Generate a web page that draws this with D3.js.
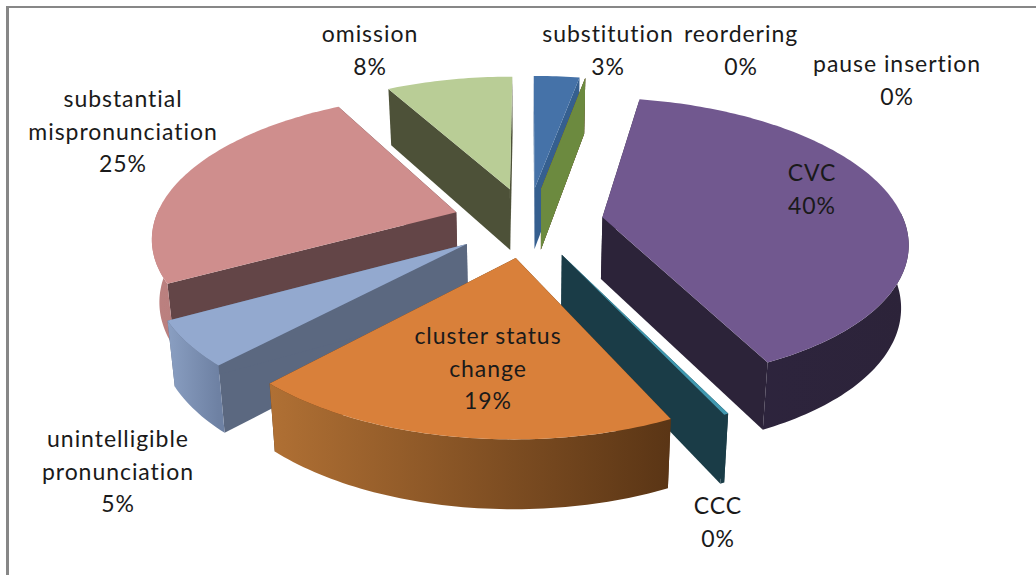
<!DOCTYPE html>
<html><head><meta charset="utf-8">
<script src="https://cdn.jsdelivr.net/npm/d3@7"></script>
<style>html,body{margin:0;padding:0;background:#fff}svg{display:block}</style>
</head><body><div id="chart"></div>
<script>
const categories = ["substitution","reordering","pause insertion","CVC","CCC","cluster status change","unintelligible pronunciation","substantial mispronunciation","omission"];
const values = [2.9, 0, 0, 39.9, 0.2, 19, 5, 25, 8];
const percentLabels = ["3%","0%","0%","40%","0%","19%","5%","25%","8%"];
const labelLines = [["substitution"],["reordering"],["pause insertion"],["CVC"],["CCC"],["cluster status","change"],["unintelligible","pronunciation"],["substantial","mispronunciation"],["omission"]];
const labelCenters = [[608,35],[741,35],[897,65],[812,174],[718,507],[488,337],[118,440],[123,100],[370,35]];
const topColors = ["#4572a8","#a04a48","#7f9a48","#71588f","#4198af","#d9803a","#93a9cf","#cf8e8d","#b9cd96"];
const faceColors = ["#355f8f","#6a3030","#6c8a3f","#2c2339","#1a3c47","#5a3515","#5b6880","#634547","#4d5138"];
const sideLeftColors = ["#3d6596","#8a4040","#6c8a3f","#2e2540","#1a3c47","#b07034","#8a9fc2","#bc8180","#a4b685"];
const sideRightColors = ["#355f8f","#6a3030","#6c8a3f","#2c2339","#1a3c47","#5a3515","#6e81a3","#a87070","#4d5138"];

const W = 1036, H = 575;
const explode = 0.25, tiltK = 0.158, depth = 62, depthK = 0.09, bottomScale = 0.98;
const xProj = d3.scaleLinear().domain([-1,1]).range([528-302,528+302]);
const yProj = d3.scaleLinear().domain([-1,1]).range([222-140,222+140]);
const cx = xProj(0);

const svg = d3.select("#chart").append("svg").attr("width",W).attr("height",H)
  .style("font-family","Lato, Carlito, sans-serif");
svg.append("line").attr("x1",7.5).attr("x2",7.5).attr("y1",6).attr("y2",H).attr("stroke","#878787").attr("stroke-width",3);
svg.append("line").attr("x1",6).attr("x2",W).attr("y1",7).attr("y2",7).attr("stroke","#878787").attr("stroke-width",2);

const pie = d3.pie().sort(null).value(d=>d).startAngle(0).endAngle(2*Math.PI);
const arcs = pie(values).map((a,i)=>({...a,i,mid:(a.startAngle+a.endAngle)/2}));

function project(a, r, mid, bottom){
  const X = r*Math.sin(a) + explode*Math.sin(mid);
  const Z = -r*Math.cos(a) - explode*Math.cos(mid);
  const w = 1 - tiltK*Z;
  const sx = xProj(X/w), sy = yProj(Z/w);
  return bottom ? [cx+(sx-cx)*bottomScale, sy+depth/(1-depthK*Z)] : [sx,sy];
}
const line = d3.line();
function rimAngles(d){
  const n = Math.max(1, Math.ceil((d.endAngle-d.startAngle)/0.02));
  return d3.range(n+1).map(k=>d.startAngle+(d.endAngle-d.startAngle)*k/n);
}
const defs = svg.append("defs");
arcs.forEach(d=>{
  const xs = rimAngles(d).map(a=>project(a,1,d.mid)[0]);
  const g = defs.append("linearGradient").attr("id","side"+d.i).attr("gradientUnits","userSpaceOnUse")
    .attr("x1",d3.min(xs)).attr("x2",d3.max(xs)).attr("y1",0).attr("y2",0);
  g.append("stop").attr("offset",0).attr("stop-color",sideLeftColors[d.i]);
  g.append("stop").attr("offset",1).attr("stop-color",sideRightColors[d.i]);
});
const ordered = d3.sort(arcs,(p,q)=>d3.descending(Math.cos(p.mid),Math.cos(q.mid)) || d3.ascending(p.i,q.i));
const slices = svg.selectAll("g.slice").data(ordered).join("g").attr("class","slice");
slices.each(function(d){
  const g = d3.select(this), angles = rimAngles(d);
  const face = a => line([project(a,0,d.mid),project(a,1,d.mid),project(a,1,d.mid,true),project(a,0,d.mid,true)])+"Z";
  g.append("path").attr("d",face(d.startAngle)).attr("fill",faceColors[d.i]);
  g.append("path").attr("d",face(d.endAngle)).attr("fill",faceColors[d.i]);
  const front = angles.filter(a=>Math.cos(a)<=0.05);
  if(front.length>1){
    const outer = front.map(a=>project(a,1,d.mid)).concat(front.slice().reverse().map(a=>project(a,1,d.mid,true)));
    g.append("path").attr("d",line(outer)+"Z").attr("fill",`url(#side${d.i})`);
  }
  const top = [project(0,0,d.mid)].concat(angles.map(a=>project(a,1,d.mid)));
  g.append("path").attr("d",line(top)+"Z").attr("fill",topColors[d.i]);
});
const lh = 32.5;
arcs.forEach(d=>{
  const [x,y0] = labelCenters[d.i];
  const lines = labelLines[d.i].concat(percentLabels[d.i]);
  const t = svg.append("text").attr("text-anchor","middle").attr("font-size",23).attr("letter-spacing",0.95).attr("fill","#1a1a1a");
  lines.forEach((s,k)=>t.append("tspan").attr("x",x).attr("y",y0+7+k*lh).text(s));
});
</script></body></html>
